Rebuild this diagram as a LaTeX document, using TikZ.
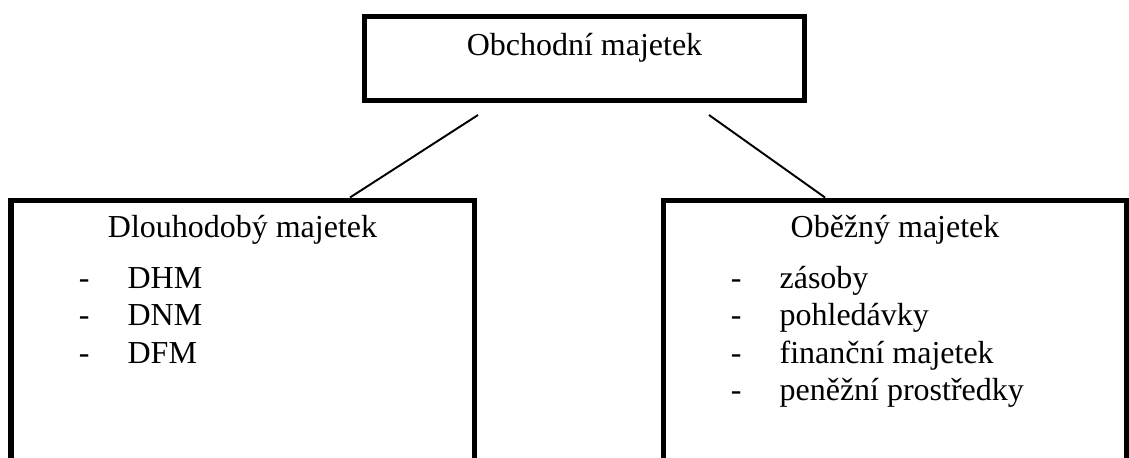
\documentclass[tikz,border=0pt]{standalone}
\usepackage{fontspec}
\setmainfont{Liberation Serif}
\usepackage{tikz}
\newcommand{\itm}[1]{\makebox[0.976cm][l]{-}#1}

\begin{document}
\begin{tikzpicture}[font=\fontsize{18.2}{22}\selectfont]
  \useasboundingbox (0,0) rectangle (22.58,9.14);

  \node[draw, line width=2.85pt, inner xsep=0pt, inner ysep=0pt, anchor=north,
        minimum width=8.8cm, text height=0.79cm, text depth=0.89cm]
        (top) at (11.69,8.87) {Obchodní majetek};
  \node[draw, line width=2.85pt, inner xsep=0pt, inner ysep=0pt, anchor=north,
        minimum width=9.26cm, text height=0.75cm, text depth=4.455cm]
        (dlouh) at (4.85,5.19) {Dlouhodobý majetek};
  \node[draw, line width=2.85pt, inner xsep=0pt, inner ysep=0pt, anchor=north,
        minimum width=9.26cm, text height=0.75cm, text depth=4.455cm]
        (obez) at (17.9,5.19) {Oběžný majetek};

  % items of the left box
  \node[inner sep=0pt, anchor=base west] (dhm) at (1.57,3.38) {\itm{DHM}};
  \node[inner sep=0pt, anchor=base west] (dnm) at (1.57,2.64) {\itm{DNM}};
  \node[inner sep=0pt, anchor=base west] (dfm) at (1.57,1.88) {\itm{DFM}};

  % items of the right box
  \node[inner sep=0pt, anchor=base west] (zas) at (14.61,3.38) {\itm{zásoby}};
  \node[inner sep=0pt, anchor=base west] (pohl) at (14.61,2.64) {\itm{pohledávky}};
  \node[inner sep=0pt, anchor=base west] (fin) at (14.61,1.88) {\itm{finanční majetek}};
  \node[inner sep=0pt, anchor=base west] (pen) at (14.61,1.14) {\itm{peněžní prostředky}};

  % connectors
  \draw[line width=1.1pt] ([xshift=-2.13cm, yshift=-0.25cm]top.south) -- ([xshift=2.15cm]dlouh.north);
  \draw[line width=1.1pt] ([xshift=2.49cm, yshift=-0.25cm]top.south) -- ([xshift=-1.4cm]obez.north);
\end{tikzpicture}
\end{document}
